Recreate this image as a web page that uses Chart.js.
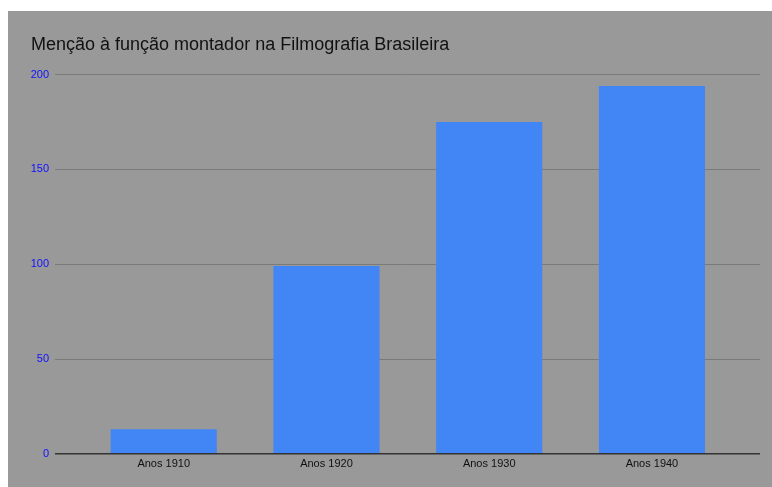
<!DOCTYPE html>
<html>
<head>
<meta charset="utf-8">
<script src="https://cdn.jsdelivr.net/npm/chart.js@4"></script>
<style>
  html, body { margin: 0; padding: 0; background: #ffffff; }
  #wrap { position: absolute; left: 8px; top: 11px; width: 764px; height: 476px; background: #999999; }
</style>
</head>
<body>
<div id="wrap"><canvas id="c"></canvas></div>
<script>
const chartTitle = 'Menção à função montador na Filmografia Brasileira';
const categories = ['Anos 1910', 'Anos 1920', 'Anos 1930', 'Anos 1940'];
const values = [13, 99, 175, 194];
const yTicks = [0, 50, 100, 150, 200];

Chart.defaults.font.family = "'Liberation Sans', Arial, sans-serif";
Chart.defaults.font.size = 11;

new Chart(document.getElementById('c'), {
  type: 'bar',
  data: {
    datasets: [{
      data: values.map((v, i) => ({ x: i, y: v })),
      backgroundColor: '#4285f4',
      borderWidth: 0,
      categoryPercentage: 1,
      barPercentage: 0.652
    }]
  },
  options: {
    responsive: true,
    maintainAspectRatio: false,
    animation: false,
    layout: { padding: { top: 23, left: 23, right: 12, bottom: 12 } },
    plugins: {
      legend: { display: false },
      tooltip: { enabled: false },
      title: {
        display: true,
        text: chartTitle,
        align: 'start',
        color: '#111111',
        font: { size: 18, weight: 'normal' },
        padding: { top: 0, bottom: 19 }
      }
    },
    scales: {
      x: {
        type: 'linear',
        offset: false,
        min: -0.668,
        max: 3.664,
        grid: { display: false, drawTicks: false },
        border: { display: false },
        afterBuildTicks: (scale) => { scale.ticks = categories.map((_, i) => ({ value: i })); },
        ticks: {
          color: '#111111',
          padding: 4,
          maxRotation: 0,
          autoSkip: false,
          callback: (v) => categories[v]
        }
      },
      y: {
        min: yTicks[0],
        max: yTicks[yTicks.length - 1],
        afterBuildTicks: (scale) => { scale.ticks = yTicks.map(v => ({ value: v })); },
        afterFit: (scale) => { scale.width = 24; },
        border: { display: false },
        grid: {
          drawTicks: false,
          color: (ctx) => ctx.tick && ctx.tick.value === 0 ? '#333333' : '#7a7a7a',
          lineWidth: (ctx) => ctx.tick && ctx.tick.value === 0 ? 1.5 : 1
        },
        ticks: { color: '#1010ff', padding: 6 }
      }
    }
  }
});
</script>
</body>
</html>
